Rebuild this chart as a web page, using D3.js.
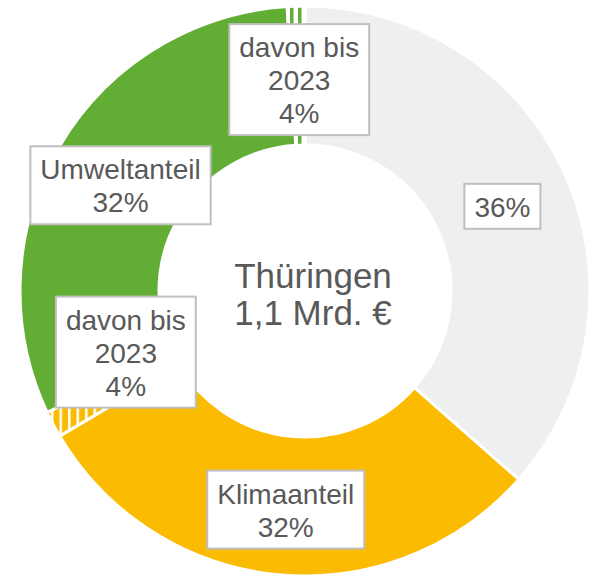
<!DOCTYPE html>
<meta charset="utf-8">
<style>
body {
  margin: 0;
  background: #fff;
}
.label text, .center text {
  font-family: "Liberation Sans", Arial, sans-serif;
  fill: #595959;
}
.label rect {
  fill: #fff;
  stroke: #bfbfbf;
  stroke-width: 2px;
}
.slice {
  stroke: #fff;
  stroke-width: 3px;
}
</style>
<body>
<script src="https://cdn.jsdelivr.net/npm/d3@7"></script>
<script>
// slices as drawn (share of the ring), clockwise from 12 o'clock
var sliceNames = ["Rest", "Klimaanteil", "Klima bis 2023", "Umweltanteil", "Umwelt bis 2023"];
var sliceValues = [36.5, 30, 1.5, 31, 1];
var sliceFills = ["#eef0f0", "#fbbb00", "url(#hatchYellow)", "#62ae35", "url(#hatchGreen)"];

// label texts, one per slice
var labelLines = [
  ["36%"],
  ["Klimaanteil", "32%"],
  ["davon bis", "2023", "4%"],
  ["Umweltanteil", "32%"],
  ["davon bis", "2023", "4%"]
];

var centerLines = ["Thüringen", "1,1 Mrd. €"];

var width = 592,
    height = 580,
    cx = 305,
    cy = 291,
    outerR = 285,
    innerR = 146,
    lineH = 33;

var svg = d3.select("body").append("svg")
    .attr("width", width)
    .attr("height", height);

var defs = svg.append("defs");
var pg = defs.append("pattern")
    .attr("id", "hatchGreen")
    .attr("patternUnits", "userSpaceOnUse")
    .attr("width", 8).attr("height", 8);
pg.append("rect").attr("width", 8).attr("height", 8).attr("fill", "#fff");
pg.append("rect").attr("x", 1).attr("width", 3.5).attr("height", 8).attr("fill", "#62ae35");

var py = defs.append("pattern")
    .attr("id", "hatchYellow")
    .attr("patternUnits", "userSpaceOnUse")
    .attr("width", 8.5).attr("height", 8.5);
py.append("rect").attr("width", 8.5).attr("height", 8.5).attr("fill", "#fbbb00");
py.append("rect").attr("x", 1).attr("width", 2.5).attr("height", 8.5).attr("fill", "#fff");

var pie = d3.pie().sort(null).value(function(d) { return d; });
var arcs = pie(sliceValues);

var arc = d3.arc().innerRadius(innerR).outerRadius(outerR);
var labelArc = d3.arc().innerRadius(innerR).outerRadius(outerR);

var g = svg.append("g").attr("transform", "translate(" + cx + "," + cy + ")");

g.selectAll("path.slice")
  .data(arcs)
  .enter().append("path")
    .attr("class", "slice")
    .attr("fill", function(d, i) { return sliceFills[i]; })
    .attr("d", arc);

// labels sit on the ring's middle; the lower "davon" label is pulled up a bit
var labels = g.selectAll("g.label")
  .data(arcs)
  .enter().append("g")
    .attr("class", "label")
    .attr("transform", function(d, i) {
      var c = labelArc.centroid(d);
      if (i === 2) {
        var a = d3.mean([d.startAngle, d.endAngle]) + 0.18, r = 189;
        c = [Math.sin(a) * r, -Math.cos(a) * r];
      }
      return "translate(" + (c[0] + 1) + "," + (c[1] + 4) + ")";
    });

labels.each(function(d, i) {
  var sel = d3.select(this);
  var lines = labelLines[i];
  var n = lines.length;
  var first = -(n - 1) * lineH / 2 + 10.5;
  var rect = sel.append("rect");
  var t = sel.append("text")
      .attr("text-anchor", "middle")
      .style("font-size", "28px");
  lines.forEach(function(s, k) {
    t.append("tspan").attr("x", 0).attr("y", first + k * lineH).text(s);
  });
  var w = t.node().getBBox().width + 20;
  var top = first - lineH, bottom = first + (n - 1) * lineH + 12;
  rect.attr("x", -w / 2).attr("y", top)
      .attr("width", w).attr("height", bottom - top);
});

var center = svg.append("g").attr("class", "center")
    .attr("transform", "translate(" + (cx + 8) + "," + cy + ")");
center.append("text")
    .attr("text-anchor", "middle")
    .style("font-size", "35px")
  .selectAll("tspan")
  .data(centerLines)
  .enter().append("tspan")
    .attr("x", 0)
    .attr("y", function(d, i) { return -3 + i * 37; })
    .text(function(d) { return d; });
</script>
</body>
